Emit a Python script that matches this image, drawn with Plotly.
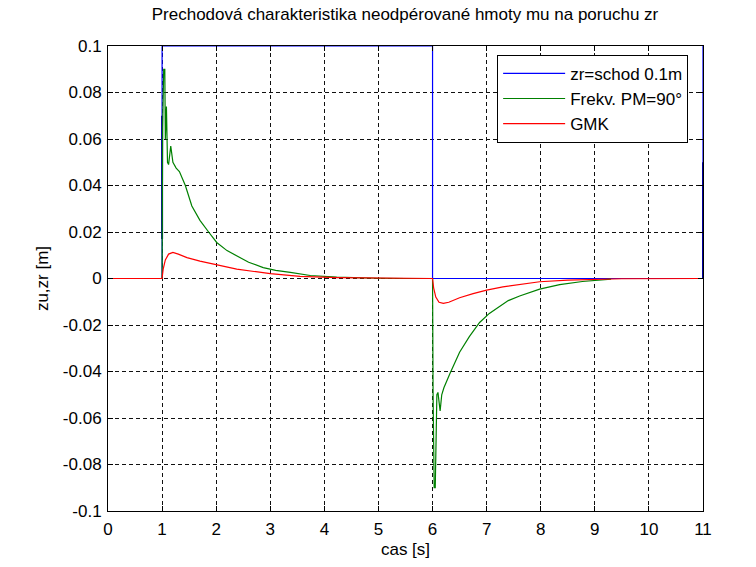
import plotly.graph_objects as go

# --- data ---
t_step = [0, 1, 1, 6, 6, 11, 11]
zr_step = [0, 0, 0.1, 0.1, 0, 0, 0.1]

t_dark = [1, 1, None, 11, 11]
z_dark = [0.017, 0.07, None, 0, 0.05]

t_frekv = [0, 1.0, 1.01, 1.03, 1.05, 1.06, 1.08, 1.10, 1.12, 1.16, 1.20, 1.26, 1.32,
           1.43, 1.55, 1.70, 1.86, 2.01, 2.20, 2.38, 2.60, 2.87, 3.10, 3.37, 3.74,
           4.23, 4.60, 5.00, 5.50, 6.0, 6.01, 6.03, 6.05, 6.06, 6.08, 6.10, 6.14,
           6.17, 6.21, 6.32, 6.50, 6.68, 6.87, 7.05, 7.24, 7.40, 7.61, 7.98, 8.35,
           8.77, 9.30]
z_frekv = [0, 0, 0.065, 0.090, 0.090, 0.060, 0.074, 0.050, 0.049, 0.057, 0.050, 0.0475,
           0.046, 0.040, 0.0312, 0.025, 0.020, 0.0155, 0.012, 0.0097, 0.007, 0.0047,
           0.0035, 0.0026, 0.0013, 0.0006, 0.0003, 0.0001, 0.0, 0, -0.05, -0.090,
           -0.090, -0.075, -0.050, -0.049, -0.057, -0.050, -0.047, -0.041, -0.0317,
           -0.025, -0.0189, -0.015, -0.0118, -0.0095, -0.0075, -0.0046, -0.0026,
           -0.0013, -0.0003]

t_gmk = [0, 1.0, 1.02, 1.06, 1.12, 1.20, 1.30, 1.46, 1.70, 1.95, 2.38, 3.0, 3.55,
         4.23, 5.0, 6.0, 6.02, 6.06, 6.12, 6.20, 6.30, 6.50, 6.75, 7.0, 7.3, 7.6,
         7.98, 8.5, 9.0, 9.5, 11.0]
z_gmk = [0, 0, 0.004, 0.008, 0.0105, 0.0112, 0.0105, 0.009, 0.0075, 0.0061, 0.004,
         0.0021, 0.0009, 0.0004, 0.0002, 0, -0.004, -0.008, -0.0102, -0.0107,
         -0.0102, -0.0083, -0.0065, -0.005, -0.0036, -0.0026, -0.0014, -0.0007,
         -0.0003, -0.0001, 0]

x_ticks = list(range(0, 12))
y_ticks = [-0.1, -0.08, -0.06, -0.04, -0.02, 0, 0.02, 0.04, 0.06, 0.08, 0.1]
y_ticklabels = ["-0.1", "-0.08", "-0.06", "-0.04", "-0.02", "0",
                "0.02", "0.04", "0.06", "0.08", "0.1"]

FONT = "Liberation Sans"
FS = 17

fig = go.Figure()
fig.add_trace(go.Scatter(x=t_step, y=zr_step, mode="lines", name="zr=schod 0.1m",
                         line=dict(color="#0000ff", width=1.2)))
fig.add_trace(go.Scatter(x=t_dark, y=z_dark, mode="lines", showlegend=False,
                         line=dict(color="#0000a0", width=2)))
fig.add_trace(go.Scatter(x=t_frekv, y=z_frekv, mode="lines", name="Frekv. PM=90°",
                         line=dict(color="#008000", width=1.2)))
fig.add_trace(go.Scatter(x=t_gmk, y=z_gmk, mode="lines", name="GMK",
                         line=dict(color="#ff0000", width=1.2)))

axis_common = dict(
    showline=True, linecolor="black", linewidth=1, mirror="ticks",
    ticks="inside", ticklen=5, tickcolor="black",
    showgrid=True, gridcolor="#111111", gridwidth=1, griddash="4px,3px",
    zeroline=False, tickfont=dict(family=FONT, size=FS, color="black"),
)

fig.update_xaxes(range=[0, 11], tickvals=x_ticks, ticklabelstandoff=3,
                 title=dict(text="cas [s]", font=dict(family=FONT, size=FS, color="black"), standoff=4),
                 **axis_common)
fig.update_yaxes(range=[-0.1, 0.1], tickvals=y_ticks, ticktext=y_ticklabels, ticklabelstandoff=2,
                 title=dict(text="zu,zr [m]", font=dict(family=FONT, size=FS, color="black"), standoff=9),
                 **axis_common)

fig.update_layout(
    width=756, height=567,
    margin=dict(l=108, r=53, t=46, b=54),
    paper_bgcolor="white", plot_bgcolor="white",
    title=dict(text="Prechodová charakteristika neodpérované hmoty mu na poruchu zr",
               x=0.5357, xanchor="center", y=1 - 14 / 567, yanchor="middle", yref="container",
               font=dict(family=FONT, size=FS, color="black")),
    legend=dict(x=0.654, y=0.981, xanchor="left", yanchor="top",
                bgcolor="white", bordercolor="black", borderwidth=1,
                font=dict(family=FONT, size=FS, color="black"),
                itemwidth=62),
    showlegend=True,
)

fig.write_html("out.html")
